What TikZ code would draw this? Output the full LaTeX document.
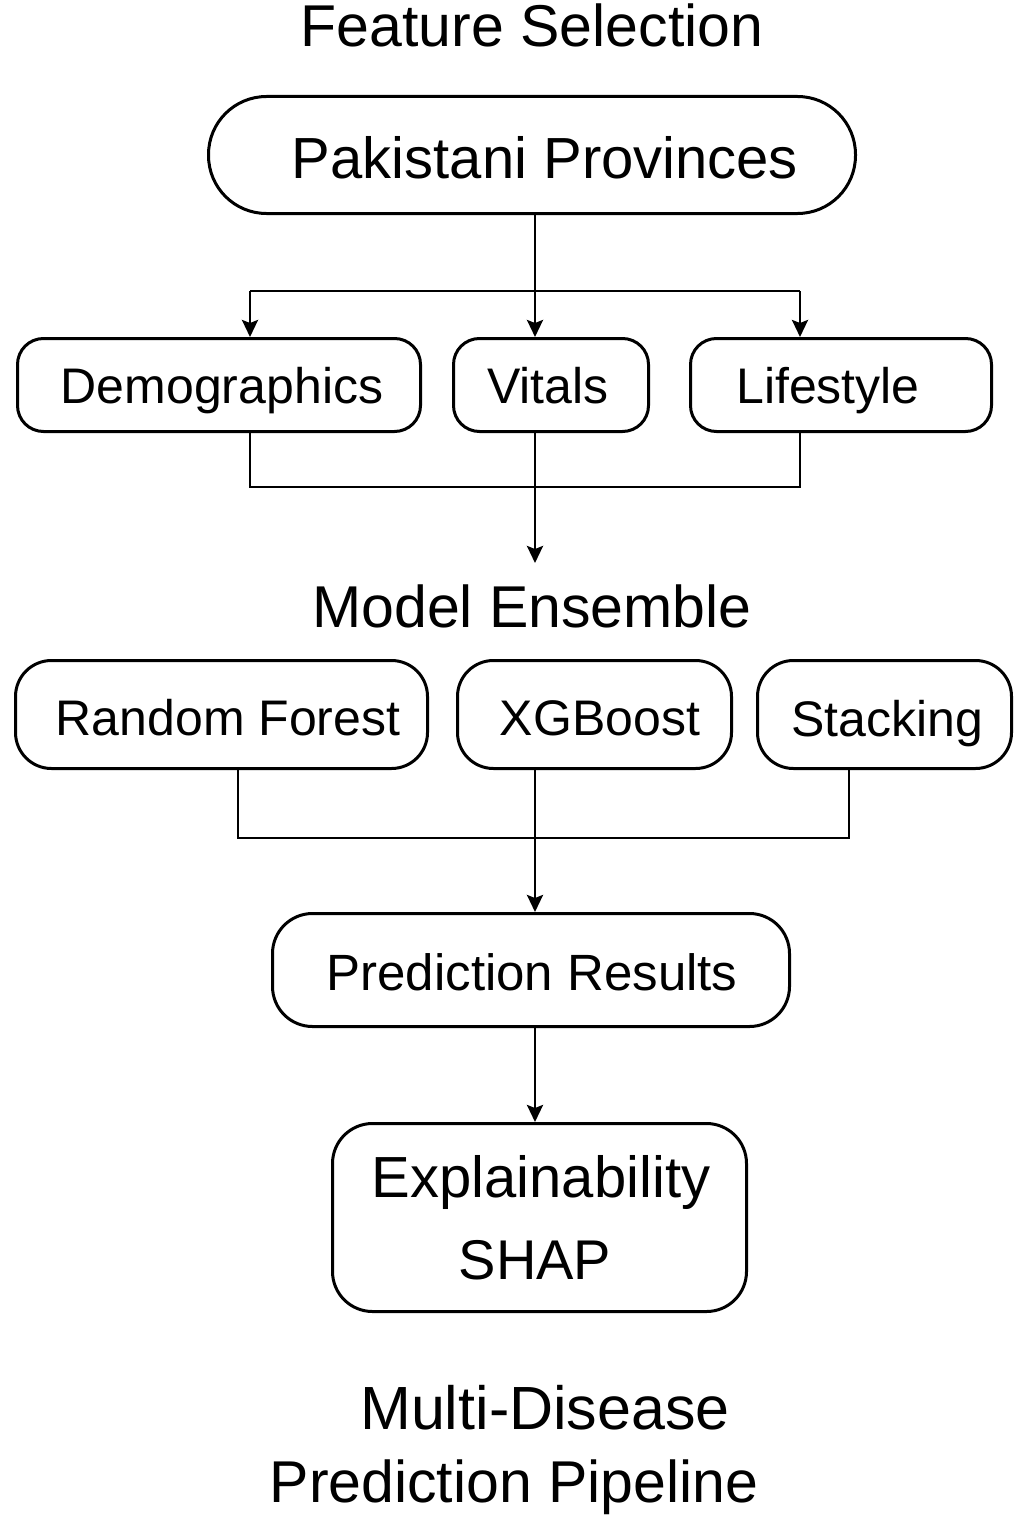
\documentclass[tikz,border=0pt]{standalone}
\usepackage{fontspec}
\setmainfont{Liberation Sans}
\usetikzlibrary{arrows.meta,calc}
\begin{document}
\begin{tikzpicture}[x=1pt,y=-1pt,
  box/.style={draw=black,line width=3pt,rounded corners=#1,inner sep=0pt},
  box/.default=28pt,
  lbl/.style={anchor=base,inner sep=0pt,font=\fontsize{50}{60}\selectfont},
  biglbl/.style={anchor=base,inner sep=0pt,font=\fontsize{58}{70}\selectfont},
  ttl/.style={anchor=base,inner sep=0pt,font=\fontsize{59}{72}\selectfont},
  wire/.style={line width=2.7pt,line join=miter},
  arr/.style={wire,-{Stealth[length=17pt,width=16pt,inset=3pt]}}
]
\useasboundingbox (0,0) rectangle (1024,1536);

% titles
\node[ttl] (t1) at (532,47) {Feature Selection};
\node[ttl] (t2) at (532,627) {Model Ensemble};
\node[ttl,font=\fontsize{61}{72}\selectfont] (t3) at (545,1429) {Multi-Disease};
\node[ttl] (t4) at (514,1502) {Prediction Pipeline};

% boxes
\node[box=58pt,minimum width=647pt,minimum height=117pt] (prov) at (532,155) {};
\node[biglbl] (provt) at (545,178) {Pakistani Provinces};

\node[box=26pt,minimum width=403pt,minimum height=93pt] (demo) at (219,385) {};
\node[lbl] (demot) at (222,403) {Demographics};
\node[box=26pt,minimum width=195pt,minimum height=93pt] (vit) at (551,385) {};
\node[lbl] (vitt) at (548,403) {Vitals};
\node[box=26pt,minimum width=301pt,minimum height=93pt] (life) at (841,385) {};
\node[lbl] (lifet) at (828,403) {Lifestyle};

\node[box=36pt,minimum width=412pt,minimum height=108pt] (rf) at (221.5,714.5) {};
\node[lbl] (rft) at (228,735) {Random Forest};
\node[box=36pt,minimum width=274pt,minimum height=108pt] (xgb) at (594.5,714.5) {};
\node[lbl] (xgbt) at (600,735) {XGBoost};
\node[box=36pt,minimum width=254pt,minimum height=108pt] (stk) at (884.5,714.5) {};
\node[lbl] (stkt) at (887,736) {Stacking};

\node[box=40pt,minimum width=517pt,minimum height=113pt] (pred) at (531,970) {};
\node[lbl,font=\fontsize{51}{60}\selectfont] (predt) at (532,990) {Prediction Results};

\node[box=40pt,minimum width=414pt,minimum height=188pt] (expl) at (539.5,1217.5) {};
\node[biglbl] (explt1) at (541,1197) {Explainability};
\node[biglbl,font=\fontsize{56}{66}\selectfont] (explt2) at (535,1279) {SHAP};

% helper coordinates
\coordinate (sp) at (535,0);
\coordinate (lx) at (250,0);
\coordinate (rx) at (800,0);
\coordinate (br) at (535,291);
\coordinate (mg) at (535,487);
\coordinate (me) at (535,563);
\coordinate (lx2) at (238,0);
\coordinate (rx2) at (849,0);
\coordinate (mg2) at (535,838);

% feature branch
\draw[arr] (prov.south -| sp) -- (vit.north -| sp);
\draw[wire] (br -| lx) -- (br -| rx);
\draw[arr] (br -| lx) -- (demo.north -| lx);
\draw[arr] (br -| rx) -- (life.north -| rx);

% merge
\draw[wire] (demo.south -| lx) -- (mg -| lx) -- (mg -| rx) -- (life.south -| rx);
\draw[arr] (vit.south -| sp) -- (me);

% model merge
\draw[wire] (rf.south -| lx2) -- (mg2 -| lx2) -- (mg2 -| rx2) -- (stk.south -| rx2);
\draw[arr] (xgb.south -| sp) -- (pred.north -| sp);

\draw[arr] (pred.south -| sp) -- (expl.north -| sp);
\end{tikzpicture}
\end{document}
